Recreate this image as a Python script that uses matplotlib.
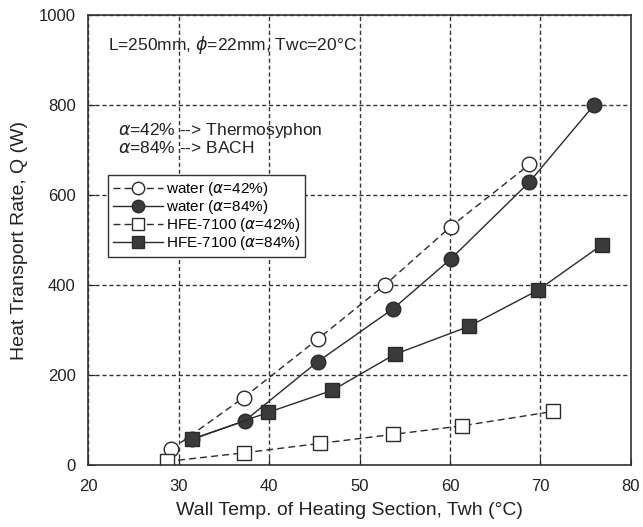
import matplotlib.pyplot as plt

plt.rcParams['font.family'] = ['Liberation Sans', 'DejaVu Sans']
plt.rcParams['mathtext.fontset'] = 'dejavusans'

# data
w42_x = [29.2, 37.2, 45.4, 52.8, 60.1, 68.8]
w42_y = [35, 150, 280, 400, 530, 668]
w84_x = [31.5, 37.3, 45.4, 53.7, 60.1, 68.8, 75.9]
w84_y = [58, 98, 230, 347, 458, 629, 799]
h42_x = [28.7, 37.2, 45.6, 53.7, 61.3, 71.4]
h42_y = [8, 27, 48, 68, 87, 119]
h84_x = [31.5, 39.9, 47.0, 53.9, 62.1, 69.7, 76.8]
h84_y = [57, 117, 166, 246, 308, 388, 489]

xticks = [20, 30, 40, 50, 60, 70, 80]
yticks = [0, 200, 400, 600, 800, 1000]

fig = plt.figure(figsize=(6.43, 5.27), dpi=100)
ax = fig.add_axes([0.1373, 0.1176, 0.8436, 0.8539])

dk = '#2a2a2a'
fill = '#3a3a3a'
dash = (0, (5, 3))
ms = 10.5

ax.plot(w42_x, w42_y, color=dk, lw=1, ls=dash, marker='o', ms=ms,
        mfc='white', mec=dk, mew=1, label=r'water ($\alpha$=42%)')
ax.plot(w84_x, w84_y, color=dk, lw=1, ls='-', marker='o', ms=ms,
        mfc=fill, mec=dk, mew=1, label=r'water ($\alpha$=84%)')
ax.plot(h42_x, h42_y, color=dk, lw=1, ls=dash, marker='s', ms=ms,
        mfc='white', mec=dk, mew=1, label=r'HFE-7100 ($\alpha$=42%)')
ax.plot(h84_x, h84_y, color=dk, lw=1, ls='-', marker='s', ms=ms,
        mfc=fill, mec=dk, mew=1, label=r'HFE-7100 ($\alpha$=84%)')

ax.set_xlim(20, 80)
ax.set_ylim(0, 1000)
ax.set_xticks(xticks)
ax.set_yticks(yticks)
ax.tick_params(direction='in', length=5, labelsize=12, colors='#222')
ax.tick_params(axis='x', pad=10)
ax.tick_params(axis='y', pad=9)
ax.grid(True, ls=(0, (3, 2)), color='#333', lw=1)
for s in ax.spines.values():
    s.set_color('#333')
    s.set_linewidth(1.2)

ax.set_xlabel('Wall Temp. of Heating Section, Twh (°C)', fontsize=14, color='#222',
              labelpad=6, x=0.482)
ax.set_ylabel('Heat Transport Rate, Q (W)', fontsize=14, color='#222', labelpad=8)

ax.text(22.2, 933, r'L=250mm, $\phi$=22mm, Twc=20°C', fontsize=12.5, color='#222', va='center')
ax.text(23.3, 744, r'$\alpha$=42% --> Thermosyphon', fontsize=12.5, color='#222', va='center')
ax.text(23.3, 704, r'$\alpha$=84% --> BACH', fontsize=12.5, color='#222', va='center')

leg = ax.legend(loc='upper left', bbox_to_anchor=(0.036, 0.644), fontsize=11,
                handlelength=3.3, handletextpad=0.15, labelspacing=0.0,
                borderpad=0.33, borderaxespad=0, fancybox=False, framealpha=1,
                edgecolor='#333', markerscale=0.85)
leg.get_frame().set_linewidth(1)

fig.savefig('out.png', dpi=100)
